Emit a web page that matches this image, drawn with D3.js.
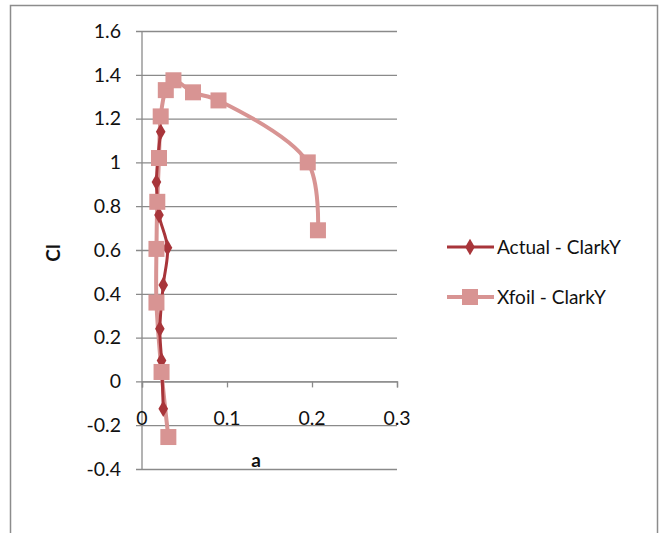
<!DOCTYPE html>
<html>
<head>
<meta charset="utf-8">
<script src="https://cdn.jsdelivr.net/npm/d3@7"></script>
<style>
  body { margin: 0; background: #fff; }
  text { font-family: Lato, "Open Sans", sans-serif; fill: #111; }
</style>
</head>
<body>
<div id="my_dataviz"></div>
<script>
// series: a (x) and Cl (y)
var actualA  = [0.025, 0.023, 0.021, 0.025, 0.030, 0.020, 0.017, 0.022];
var actualCl = [-0.125, 0.095, 0.24, 0.44, 0.61, 0.76, 0.91, 1.14];

var xfoilA  = [0.031, 0.023, 0.017, 0.017, 0.018, 0.020, 0.022, 0.028, 0.037, 0.060, 0.090, 0.195, 0.207];
var xfoilCl = [-0.254, 0.043, 0.36, 0.605, 0.82, 1.02, 1.21, 1.33, 1.375, 1.32, 1.283, 1.0, 0.69];

var xTicks = [0, 0.1, 0.2, 0.3];
var yTicks = [-0.4, -0.2, 0, 0.2, 0.4, 0.6, 0.8, 1, 1.2, 1.4, 1.6];
var seriesNames = ["Actual - ClarkY", "Xfoil - ClarkY"];

function plot() {
    document.getElementById("my_dataviz").innerHTML = '';

    var W = 661, H = 533;
    var svg = d3.select("#my_dataviz").append("svg")
        .attr("width", W).attr("height", H);

    // chart frame
    svg.append("rect")
        .attr("x", 10.5).attr("y", 5.5)
        .attr("width", 647).attr("height", 560)
        .attr("fill", "none").attr("stroke", "#8c8c8c").attr("stroke-width", 1.5);

    var xScale = d3.scaleLinear().domain([0, 0.3]).range([142, 397]);
    var yScale = d3.scaleLinear().domain([-0.4, 1.6]).range([469, 31]);

    // gridlines + left ticks
    svg.append("g")
        .attr("transform", "translate(142,0)")
        .call(d3.axisLeft(yScale).tickValues(yTicks).tickSize(-(397 - 142)).tickFormat(""))
        .call(function(g) {
            g.select(".domain").remove();
            g.selectAll("line").attr("stroke", "#8a8a8a").attr("stroke-width", 1.3)
                .attr("x1", -6);
        });

    // y axis line
    svg.append("line")
        .attr("x1", 142).attr("x2", 142)
        .attr("y1", yScale(1.6)).attr("y2", yScale(-0.4))
        .attr("stroke", "#8a8a8a").attr("stroke-width", 1.3);

    // y tick labels
    svg.append("g").selectAll("text")
        .data(yTicks).enter().append("text")
        .attr("x", 121)
        .attr("y", function(d) { return yScale(d); })
        .attr("dy", "0.35em")
        .attr("text-anchor", "end")
        .style("font-size", "19.5px")
        .text(function(d) { return String(d); });

    // x axis at Cl = 0
    svg.append("g")
        .attr("transform", "translate(0," + yScale(0) + ")")
        .call(d3.axisBottom(xScale).tickValues(xTicks).tickSize(6).tickFormat(""))
        .call(function(g) {
            g.select(".domain").attr("stroke", "#8a8a8a").attr("stroke-width", 1.3);
            g.selectAll("line").attr("stroke", "#8a8a8a").attr("stroke-width", 1.3);
        });

    // x tick labels sit low, near the -0.2 line
    svg.append("g").selectAll("text")
        .data(xTicks).enter().append("text")
        .attr("x", function(d) { return xScale(d); })
        .attr("y", 425)
        .attr("text-anchor", "middle")
        .style("font-size", "19.5px")
        .text(function(d) { return String(d); });

    // axis titles
    svg.append("text")
        .attr("x", 256).attr("y", 467)
        .attr("text-anchor", "middle")
        .style("font-size", "19px").style("font-weight", "bold")
        .text("a");
    svg.append("text")
        .attr("transform", "translate(60,253) rotate(-90)")
        .attr("text-anchor", "middle")
        .style("font-size", "19px").style("font-weight", "bold")
        .text("Cl");

    var line = d3.line()
        .curve(d3.curveCatmullRom.alpha(0.5))
        .x(function(d) { return xScale(d[0]); })
        .y(function(d) { return yScale(d[1]); });

    var xfoil = d3.zip(xfoilA, xfoilCl);
    var actual = d3.zip(actualA, actualCl);

    var pink = "#d89493", red = "#a8353a";

    // Xfoil line first (behind), then Actual, then markers
    svg.append("path").datum(xfoil)
        .attr("fill", "none").attr("stroke", pink).attr("stroke-width", 4)
        .attr("d", line);

    svg.append("path").datum(actual)
        .attr("fill", "none").attr("stroke", red).attr("stroke-width", 3)
        .attr("d", line);

    var diamond = d3.symbol().type(d3.symbolDiamond).size(80);

    svg.selectAll(".act").data(actual).enter().append("path")
        .attr("class", "act")
        .attr("transform", function(d) { return "translate(" + xScale(d[0]) + "," + yScale(d[1]) + ")"; })
        .attr("d", diamond)
        .attr("fill", red);

    svg.selectAll(".xf").data(xfoil).enter().append("rect")
        .attr("class", "xf")
        .attr("x", function(d) { return xScale(d[0]) - 8; })
        .attr("y", function(d) { return yScale(d[1]) - 8; })
        .attr("width", 16).attr("height", 16)
        .attr("fill", pink);

    // legend
    var leg = svg.append("g");
    var legY = [247, 297];
    leg.append("line").attr("x1", 447).attr("x2", 494).attr("y1", legY[0]).attr("y2", legY[0])
        .attr("stroke", red).attr("stroke-width", 3);
    leg.append("path").attr("transform", "translate(470," + legY[0] + ")")
        .attr("d", diamond).attr("fill", red);
    leg.append("line").attr("x1", 447).attr("x2", 494).attr("y1", legY[1]).attr("y2", legY[1])
        .attr("stroke", pink).attr("stroke-width", 4);
    leg.append("rect").attr("x", 462).attr("y", legY[1] - 8).attr("width", 16).attr("height", 16)
        .attr("fill", pink);
    leg.selectAll("text").data(seriesNames).enter().append("text")
        .attr("x", 497)
        .attr("y", function(d, i) { return legY[i]; })
        .attr("dy", "0.35em")
        .style("font-size", "19px")
        .text(function(d) { return d; });
}

window.addEventListener("load", plot);
</script>
</body>
</html>
